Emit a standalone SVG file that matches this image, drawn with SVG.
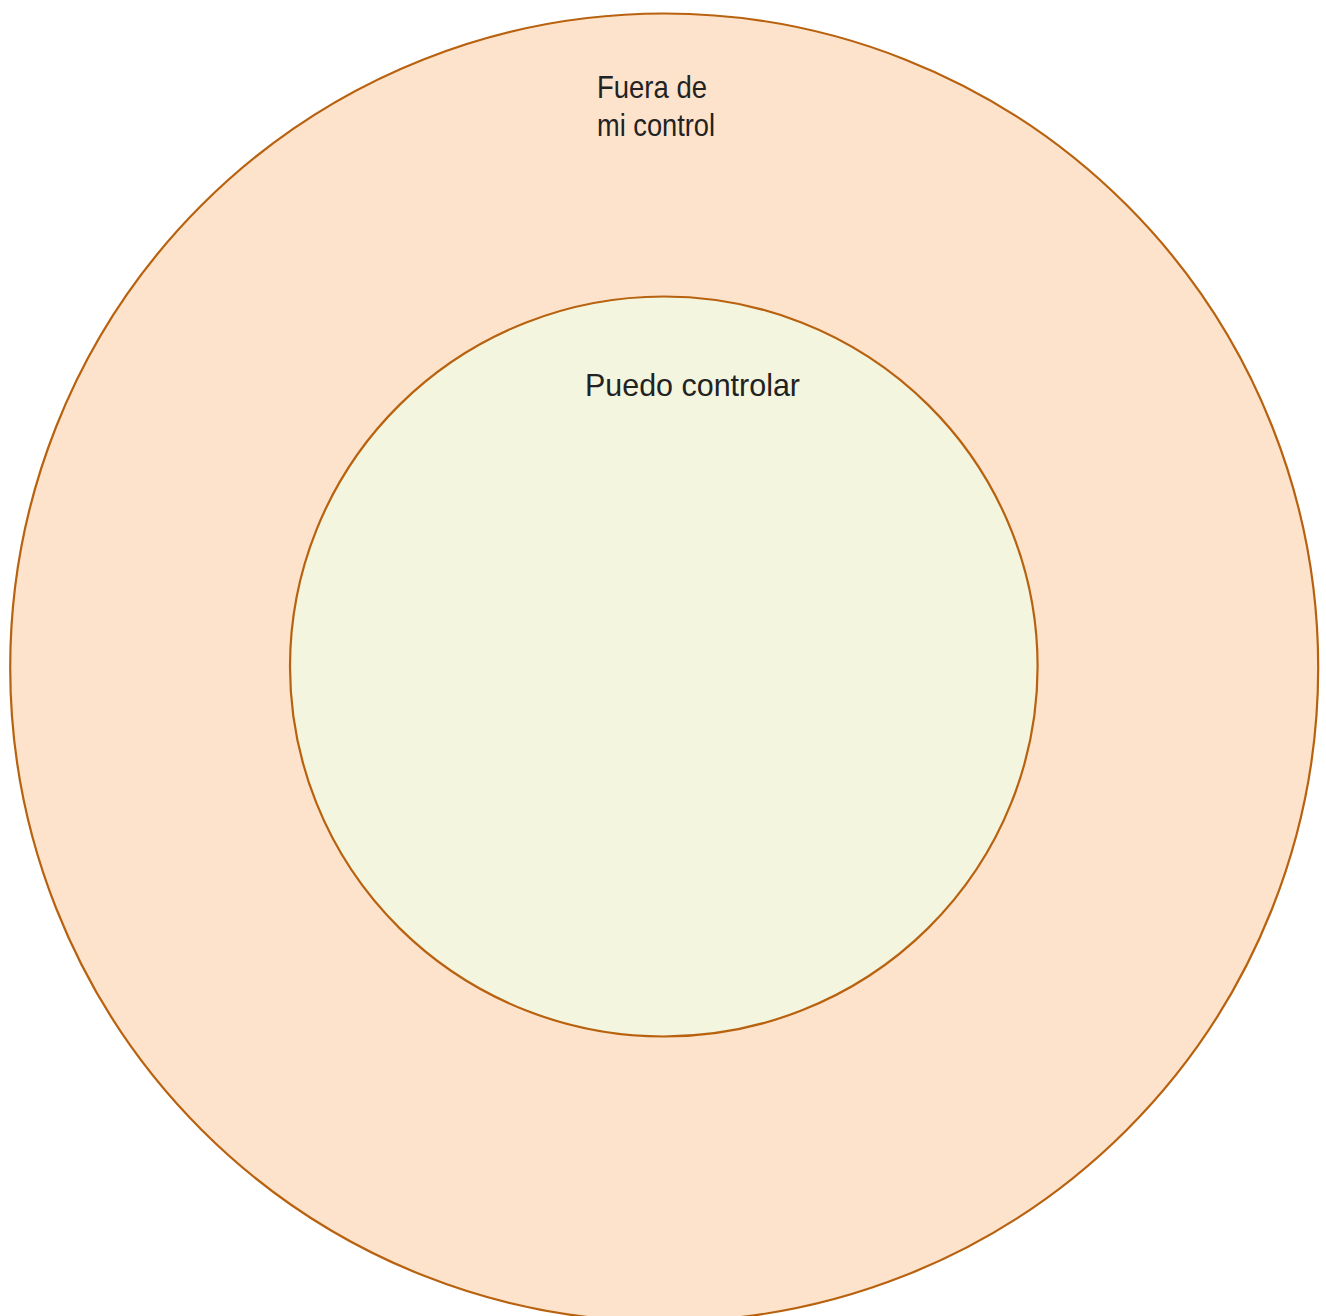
<svg xmlns="http://www.w3.org/2000/svg" width="1326" height="1316" viewBox="0 0 1326 1316">
  <style>
    .ring { stroke: #b8620f; stroke-width: 2.2; }
    .lbl { font-family: "Liberation Sans", Arial, sans-serif; fill: #222222; }
  </style>
  <rect x="0" y="0" width="1326" height="1316" fill="#ffffff"/>
  <g id="outer">
    <circle class="ring" cx="664.2" cy="667.5" r="654" fill="#fde3cc"/>
    <text class="lbl" font-size="30.5" x="597" y="97.5" textLength="110" lengthAdjust="spacingAndGlyphs">Fuera de</text>
    <text class="lbl" font-size="30.5" x="597" y="136" textLength="118" lengthAdjust="spacingAndGlyphs">mi control</text>
  </g>
  <g id="inner">
    <ellipse class="ring" cx="663.8" cy="666.5" rx="373.8" ry="370" fill="#f3f5de"/>
    <text class="lbl" font-size="31.5" x="585" y="396" textLength="215" lengthAdjust="spacingAndGlyphs">Puedo controlar</text>
  </g>
  <g id="connectors"/>
</svg>
